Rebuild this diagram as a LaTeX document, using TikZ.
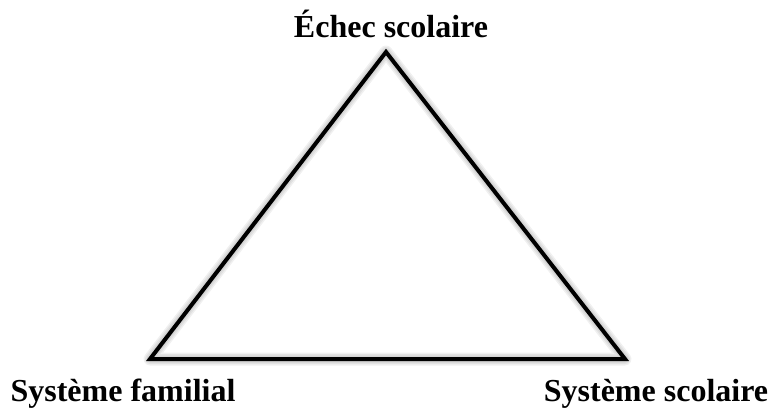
\documentclass[tikz,border=0pt]{standalone}
\usepackage{fontspec}
\setmainfont{Liberation Serif}
\usetikzlibrary{positioning}
\begin{document}
\begin{tikzpicture}[x=1pt,y=-1pt,
  lbl/.style={font=\fontsize{32}{36}\selectfont\bfseries, inner sep=0pt},
  side/.style={line width=4pt, line join=miter},
  shade/.style={draw=black, opacity=0.06, line join=round}]
\useasboundingbox (0,0) rectangle (773,410);
\coordinate (top) at (386,52);
\coordinate (fam) at (150,359);
\coordinate (sco) at (625,359);
% soft shadow
\foreach \w in {4,7,10,13}
  \draw[shade, line width=\w pt, shift={(3,5)}] (top) -- (fam) -- (sco) -- cycle;
\draw[side] (top) -- (fam) -- (sco) -- cycle;
\node[lbl, anchor=base] (echec) at (391,37) {Échec scolaire};
\node[lbl, anchor=base] (familial) at (123,401) {Système familial};
\node[lbl, anchor=base] (scolaire) at (656,401) {Système scolaire};
\end{tikzpicture}
\end{document}
